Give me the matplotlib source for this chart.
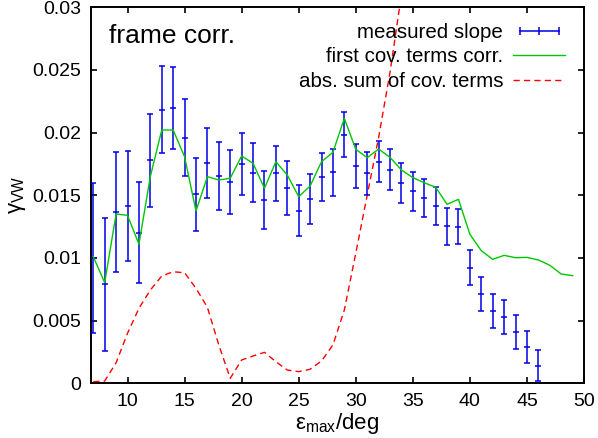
import matplotlib
matplotlib.use("Agg")
import matplotlib.pyplot as plt
from matplotlib.lines import Line2D
from matplotlib.legend_handler import HandlerLine2D
import numpy as np

plt.rcParams['font.family'] = ['Liberation Sans', 'DejaVu Sans']
plt.rcParams['mathtext.fontset'] = 'custom'
plt.rcParams['mathtext.rm'] = 'Liberation Sans'
plt.rcParams['mathtext.it'] = 'Liberation Sans:italic'

# measured slope with error bars
x_meas = list(range(7, 47))
slope = [0.0100, 0.0079, 0.01369, 0.01415, 0.01202, 0.01779, 0.02183, 0.02197, 0.0196, 0.01508,
         0.01755, 0.01654, 0.01606, 0.0175, 0.0168, 0.01462, 0.01675, 0.01561, 0.01377, 0.01468,
         0.01644, 0.01684, 0.01984, 0.01736, 0.01675, 0.01768, 0.01705, 0.016, 0.01532, 0.01476,
         0.01415, 0.01253, 0.0125, 0.00922, 0.00715, 0.00579, 0.00529, 0.00409, 0.00292, 0.0014]
slope_err = [0.00596, 0.00532, 0.00479, 0.00437, 0.00404, 0.00372, 0.00347, 0.00325, 0.00308, 0.00293,
             0.0028, 0.00269, 0.00255, 0.00247, 0.00237, 0.00228, 0.0022, 0.00216, 0.00204, 0.00198,
             0.00192, 0.00188, 0.00181, 0.00176, 0.0017, 0.00165, 0.00161, 0.0016, 0.00156, 0.00153,
             0.00148, 0.00148, 0.00142, 0.0014, 0.00137, 0.00134, 0.00132, 0.00132, 0.00127, 0.00125]

# first covariance terms corrected
x_corr = list(range(7, 50))
corr = [0.0101, 0.00803, 0.01351, 0.0134, 0.01109, 0.0165, 0.02021, 0.02021, 0.01808, 0.01375,
        0.01649, 0.01622, 0.01636, 0.01814, 0.01755, 0.01556, 0.01768, 0.01662, 0.01489, 0.01574,
        0.01768, 0.01843, 0.02114, 0.01867, 0.018, 0.01869, 0.01803, 0.01702, 0.01641, 0.016,
        0.01564, 0.01428, 0.01468, 0.01189, 0.01058, 0.00989, 0.01021, 0.01002, 0.01005, 0.00984,
        0.00942, 0.00872, 0.00859]

# abs. sum of covariance terms
x_cov = list(range(7, 35))
cov_sum = [0.00013, 0.00018, 0.00164, 0.00399, 0.00598, 0.00744, 0.00856, 0.0089, 0.00882, 0.00758,
           0.00606, 0.00306, 0.0004, 0.00186, 0.00218, 0.00247, 0.00172, 0.00106, 0.00093, 0.00112,
           0.00178, 0.00306, 0.00585, 0.01037, 0.0150, 0.0196, 0.0248, 0.031]

x_ticks = [10, 15, 20, 25, 30, 35, 40, 45, 50]
y_ticks = [0, 0.005, 0.01, 0.015, 0.02, 0.025, 0.03]
y_tick_labels = ["0", "0.005", "0.01", "0.015", "0.02", "0.025", "0.03"]

blue = '#0000e6'
green = '#00c800'
red = '#ff0000'

fig = plt.figure(figsize=(5.98, 4.38), dpi=100)
ax = fig.add_axes([91/598, 54.7/438, 493/598, 376/438])

ax.errorbar(x_meas, slope, yerr=slope_err, fmt='none', ecolor=blue, elinewidth=1.1,
            capsize=2.2, capthick=1.1, zorder=3)
ax.plot(x_meas, slope, linestyle='none', marker='_', markersize=4.5, markeredgewidth=1.1,
        color=blue, zorder=3)
ax.plot(x_corr, corr, color=green, lw=1.0, zorder=4)
ax.plot(x_cov, cov_sum, color=red, lw=1.0, dashes=(4.5, 3), zorder=2.6)

ax.set_xlim(6.8, 50)
ax.set_ylim(0, 0.03)
ax.set_xticks(x_ticks)
ax.set_yticks(y_ticks)
ax.set_yticklabels(y_tick_labels)
ax.tick_params(direction='in', length=4.5, width=1.2, top=True, right=True,
               labelsize=14, pad=7)
for s in ax.spines.values():
    s.set_linewidth(1.4)
    s.set_zorder(2.5)

ax.set_xlabel('ε$_{\\rm max}$/deg', fontsize=16, labelpad=1)
ax.set_ylabel('γ$_{\\rm VW}$', fontsize=16, labelpad=3)

ax.text(0.0365, 0.905, 'frame corr.', transform=ax.transAxes, fontsize=19,
        va='baseline', ha='left')

h1 = Line2D([0], [0], color=blue, lw=1.1, marker='|', markersize=6, markeredgewidth=1.1)
h2 = Line2D([0], [0], color=green, lw=1.0)
h3 = Line2D([0], [0], color=red, lw=1.0, dashes=(4.5, 3))
leg = ax.legend([h1, h2, h3], ['measured slope', 'first cov. terms corr.', 'abs. sum of cov. terms'],
                loc='upper right', bbox_to_anchor=(0.961, 0.958), frameon=False,
                markerfirst=False, fontsize=14.8, handlelength=2.5, handletextpad=0.5,
                labelspacing=0.26, borderpad=0, borderaxespad=0,
                handler_map={h1: HandlerLine2D(numpoints=3)})

fig.savefig('out.png', dpi=100)
